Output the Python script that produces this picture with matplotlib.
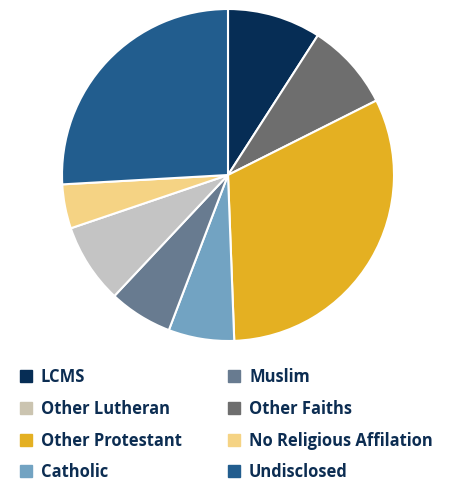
import matplotlib.pyplot as plt
from matplotlib.patches import Rectangle

# datos (porcentajes, en sentido horario desde arriba)
etiquetas = ['LCMS', 'Other Faiths', 'Other Protestant', 'Catholic',
             'Muslim', 'Other Lutheran', 'No Religious Affilation', 'Undisclosed']
valores = [9.1, 8.5, 31.8, 6.4, 6.2, 7.8, 4.3, 25.9]
colores = ['#062d55', '#6e6e6e', '#e4b022', '#72a3c2',
           '#687b90', '#c4c4c4', '#f5d384', '#225d8e']

# leyenda, dos columnas
leyenda = ['LCMS', 'Other Lutheran', 'Other Protestant', 'Catholic',
           'Muslim', 'Other Faiths', 'No Religious Affilation', 'Undisclosed']
leyenda_colores = ['#062d55', '#cbc4b0', '#e4b022', '#72a3c2',
                   '#687b90', '#6e6e6e', '#f5d384', '#225d8e']

W, H = 454, 481
fig = plt.figure(figsize=(W / 100, H / 100), dpi=100)

cx, cy, r = 228, 176, 166
ax = fig.add_axes([(cx - r) / W, (H - cy - r) / H, 2 * r / W, 2 * r / H])
ax.pie(valores, colors=colores, startangle=90, counterclock=False,
       wedgeprops=dict(edgecolor='white', linewidth=1.5))
ax.set_xlim(-1, 1)
ax.set_ylim(-1, 1)

filas = [377, 409, 441, 472]
columnas = [20, 228]
for i, (nombre, col) in enumerate(zip(leyenda, leyenda_colores)):
    x = columnas[i // 4]
    y = filas[i % 4]
    fig.patches.append(Rectangle(((x) / W, (H - y - 6) / H), 12 / W, 12 / H,
                                 transform=fig.transFigure, color=col))
    fig.text((x + 21) / W, (H - y) / H, nombre, fontsize=11.9,
             fontweight='bold', family='Open Sans', color='#0c2d52',
             va='center', ha='left')

fig.savefig('out.png', dpi=100)
